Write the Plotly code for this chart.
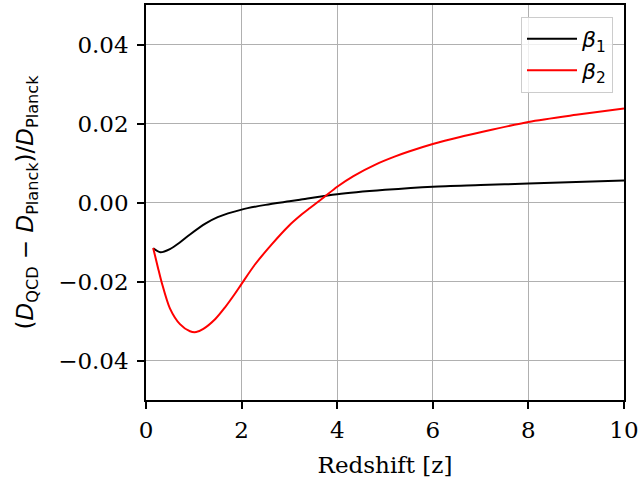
import plotly.graph_objects as go

z_beta1 = [0.15, 0.3, 0.5, 0.7, 0.92, 1.25, 1.5, 2.0, 2.5, 3.0, 3.22, 4.0, 5.0, 6.0, 7.0, 8.0, 9.0, 10.0]
y_beta1 = [-0.0116, -0.0126, -0.0118, -0.0102, -0.0081, -0.0053, -0.0037, -0.0018, -0.0006, 0.0003,
           0.0007, 0.0021, 0.0032, 0.0040, 0.0044, 0.0048, 0.0052, 0.0056]

z_beta2 = [0.15, 0.25, 0.33, 0.5, 0.71, 0.92, 1.05, 1.2, 1.45, 1.65, 1.86, 2.0, 2.28, 2.63, 2.98,
           3.26, 3.43, 3.71, 4.0, 4.34, 4.8, 5.2, 5.5, 6.0, 6.57, 7.0, 8.0, 9.0, 10.0]
y_beta2 = [-0.0115, -0.0165, -0.0203, -0.0268, -0.0308, -0.0326, -0.0328, -0.0320, -0.0295, -0.0266,
           -0.0231, -0.0206, -0.0157, -0.0106, -0.0060, -0.0030, -0.0014, 0.0012, 0.0040, 0.0067,
           0.0096, 0.0116, 0.0129, 0.0148, 0.0166, 0.0178, 0.0204, 0.0222, 0.0238]

x_ticks = [0, 2, 4, 6, 8, 10]
y_ticks = [-0.04, -0.02, 0.00, 0.02, 0.04]

fig = go.Figure()
fig.add_trace(go.Scatter(x=z_beta1, y=y_beta1, mode="lines",
                         line=dict(color="black", width=2, shape="spline", smoothing=0.8),
                         name="<i>β</i><sub>1</sub>"))
fig.add_trace(go.Scatter(x=z_beta2, y=y_beta2, mode="lines",
                         line=dict(color="red", width=2, shape="spline", smoothing=0.8),
                         name="<i>β</i><sub>2</sub>"))

axis_common = dict(showline=True, linecolor="black", linewidth=1.5, mirror=True,
                   ticks="outside", ticklen=7, tickwidth=1.5, tickcolor="black",
                   showgrid=True, gridcolor="#b0b0b0", gridwidth=1, zeroline=False,
                   automargin=False, ticklabeloverflow="allow",
                   tickfont=dict(family="DejaVu Serif", size=23, color="black"))

fig.update_xaxes(range=[0, 10], tickvals=x_ticks, ticktext=[str(v) for v in x_ticks],
                 title=dict(text="Redshift [z]", font=dict(family="DejaVu Serif", size=23, color="black"), standoff=16),
                 ticklabelstandoff=2,
                 **axis_common)
fig.update_yaxes(range=[-0.05, 0.05], tickvals=y_ticks, tickformat=".2f",
                 title=dict(text="(<i>D</i><sub>QCD</sub> − <i>D</i><sub>Planck</sub>)/<i>D</i><sub>Planck</sub>",
                            font=dict(family="DejaVu Sans", size=23, color="black"), standoff=18),
                 ticklabelstandoff=4,
                 **axis_common)

fig.update_layout(
    width=639, height=478,
    margin=dict(l=146, r=15, t=5, b=78),
    paper_bgcolor="white", plot_bgcolor="white",
    legend=dict(x=0.977, y=0.97, xanchor="right", yanchor="top", itemwidth=50,
                bgcolor="rgba(255,255,255,0.8)", bordercolor="#cccccc", borderwidth=1,
                font=dict(family="DejaVu Sans", size=22, color="black"), tracegroupgap=2),
    showlegend=True,
)

fig.write_html("out.html", config={"displayModeBar": False},
               post_script="document.body.style.margin='0px';")
